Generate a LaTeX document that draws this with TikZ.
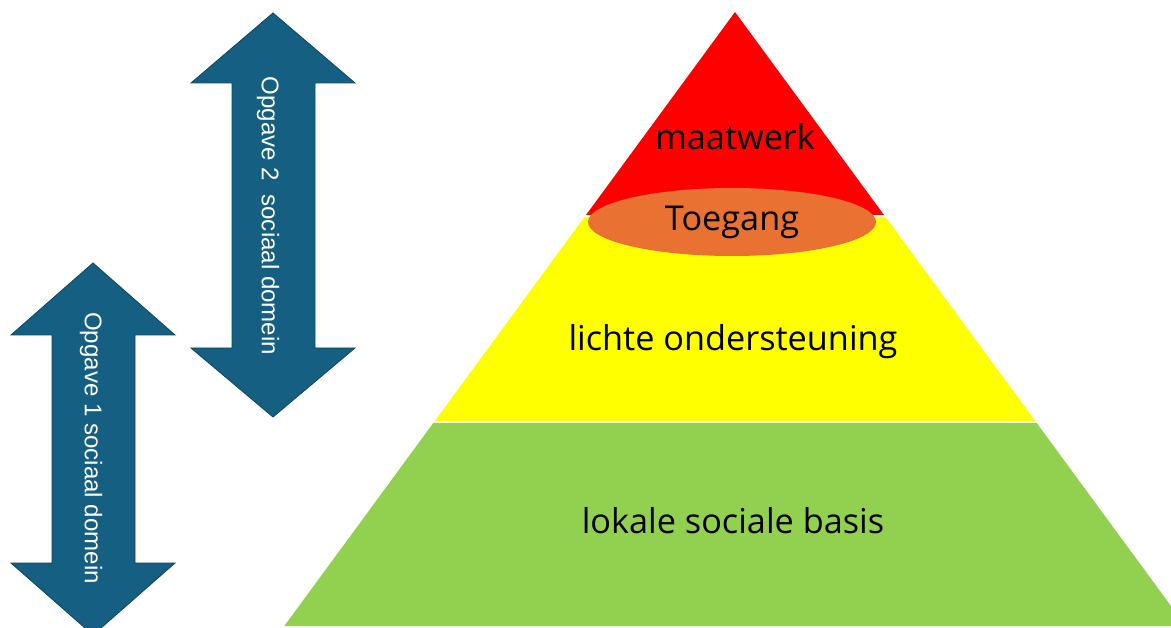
\documentclass[tikz,border=0pt]{standalone}
\usepackage{fontspec}
\setmainfont{Open Sans}
\newfontfamily\arrowfont{Liberation Sans}
\usetikzlibrary{shapes.geometric}
\definecolor{arrowblue}{HTML}{156082}
\definecolor{toporange}{HTML}{E97132}
\definecolor{basegreen}{HTML}{92D050}
\definecolor{midyellow}{HTML}{FFFF00}
\begin{document}
\begin{tikzpicture}[x=0.02cm,y=-0.02cm,
	layerlabel/.style={font=\fontsize{19.5}{22}\selectfont, text=black},
	arrowlabel/.style={font=\arrowfont\fontsize{13.7}{16}\selectfont, text=white, rotate=-90},
	bigarrow/.style={fill=arrowblue, draw=arrowblue!75!black, line width=0.5pt}]
	\useasboundingbox (0,0) rectangle (1171,628);
	\clip (0,0) rectangle (1171,628);
	% pyramid layers
	\fill[red] (735,12) -- (884,215) -- (586,215) -- cycle;
	\fill[midyellow] (584.5,217) -- (885.5,217) -- (1035.2,421) -- (434.8,421) -- cycle;
	\fill[basegreen] (433.3,423) -- (1036.7,423) -- (1185.7,626) -- (284.3,626) -- cycle;
	\node[ellipse, fill=toporange, minimum width=5.76cm, minimum height=1.36cm, layerlabel] (toegang) at (732,222) {Toegang};
	\node[layerlabel] (maatwerk) at (735,137) {maatwerk};
	\node[layerlabel] (licht) at (733,342) {lichte ondersteuning};
	\node[layerlabel] (basis) at (733,521) {lokale sociale basis};
	% arrows
	\draw[bigarrow] (273,13) -- (355,83) -- (315,83) -- (315,348) -- (355,348) -- (273,417) -- (191,348) -- (232,348) -- (232,83) -- (191,83) -- cycle;
	\draw[bigarrow] (93,263) -- (175,335) -- (135,335) -- (135,563) -- (175,563) -- (93,635) -- (11,563) -- (52,563) -- (52,335) -- (11,335) -- cycle;
	\node[arrowlabel] (opgave2) at (268,216) {Opgave 2\ \ sociaal domein};
	\node[arrowlabel] (opgave1) at (91,448) {Opgave 1 sociaal domein};
\end{tikzpicture}
\end{document}
